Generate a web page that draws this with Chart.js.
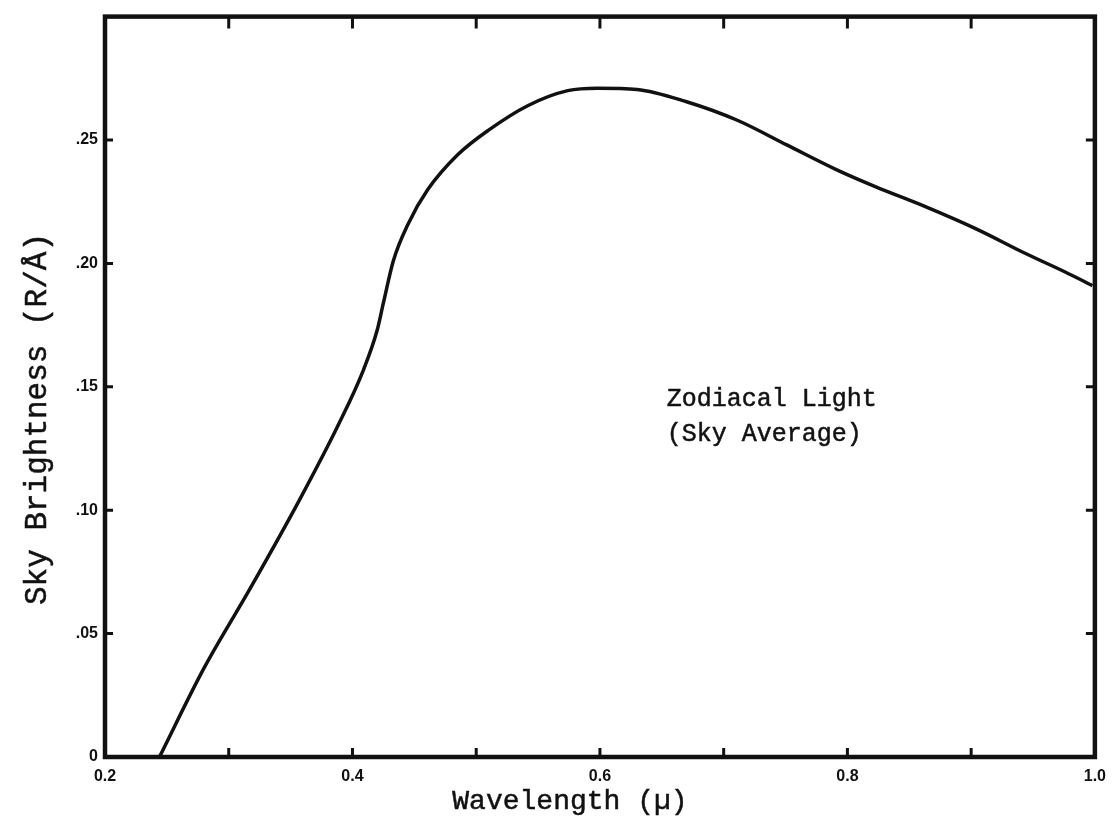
<!DOCTYPE html>
<html>
<head>
<meta charset="utf-8">
<script src="https://cdn.jsdelivr.net/npm/chart.js@4.4.1/dist/chart.umd.min.js"></script>
<style>
  html, body { margin: 0; padding: 0; background: #ffffff; }
  #wrap { width: 1116px; height: 825px; }
</style>
</head>
<body>
<div id="wrap"><canvas id="chart" width="1116" height="825"></canvas></div>
<script>
// Zodiacal light spectrum, sky average: wavelength (micron) vs brightness (R/Å)
const wavelength = [0.244, 0.280, 0.317, 0.357, 0.389, 0.409, 0.420, 0.425, 0.433, 0.445,
                    0.461, 0.485, 0.510, 0.542, 0.574, 0.598, 0.630, 0.670, 0.711, 0.751,
                    0.791, 0.823, 0.863, 0.904, 0.944, 0.976, 0.998];
const brightness = [0.000, 0.036, 0.068, 0.104, 0.135, 0.157, 0.173, 0.184, 0.201, 0.216,
                    0.230, 0.244, 0.254, 0.264, 0.270, 0.271, 0.2705, 0.2655, 0.258, 0.248,
                    0.238, 0.231, 0.223, 0.214, 0.204, 0.1965, 0.191];

// Axis tick labels
const xLabelValues = [0.2, 0.4, 0.6, 0.8, 1.0];
const xLabelTexts  = ['0.2', '0.4', '0.6', '0.8', '1.0'];
const yLabelValues = [0, 0.05, 0.10, 0.15, 0.20, 0.25];
const yLabelTexts  = ['0', '.05', '.10', '.15', '.20', '.25'];

const xTitle = 'Wavelength (\u00b5)';
const yTitle = 'Sky Brightness (R/\u00c5)';
const noteLines = ['Zodiacal Light', '(Sky Average)'];
const notePos = { x: 0.654, y: 0.145 };

function labelFor(values, texts, v) {
  for (let i = 0; i < values.length; i++) {
    if (Math.abs(values[i] - v) < 1e-6) return texts[i];
  }
  return '';
}

const INK = '#111111';
const MONO = '"Liberation Mono", "DejaVu Sans Mono", monospace';
const TICK_FONT = { family: '"Liberation Sans", Arial, sans-serif', size: 16, weight: 'bold' };

// Frame, inward tick marks, axis titles and the curve label
const framePlugin = {
  id: 'frame',
  afterDatasetsDraw(chart) {
    const { ctx, chartArea: a, scales } = chart;
    const xs = scales.x, ys = scales.y;
    ctx.save();
    ctx.strokeStyle = INK;
    ctx.lineCap = 'butt';

    // inward ticks
    ctx.lineWidth = 3;
    xs.ticks.forEach(t => {
      const px = xs.getPixelForValue(t.value);
      if (px <= a.left + 2 || px >= a.right - 2) return;
      ctx.beginPath();
      ctx.moveTo(px, a.bottom); ctx.lineTo(px, a.bottom - 9);
      ctx.moveTo(px, a.top); ctx.lineTo(px, a.top + 12);
      ctx.stroke();
    });
    ys.ticks.forEach(t => {
      const py = ys.getPixelForValue(t.value);
      if (py >= a.bottom - 2 || py <= a.top + 2) return;
      ctx.beginPath();
      ctx.moveTo(a.left, py); ctx.lineTo(a.left + 8, py);
      ctx.moveTo(a.right, py); ctx.lineTo(a.right - 9, py);
      ctx.stroke();
    });

    // frame
    ctx.lineWidth = 4.5;
    ctx.lineJoin = 'miter';
    ctx.strokeRect(a.left, a.top, a.right - a.left, a.bottom - a.top);

    // axis titles
    ctx.fillStyle = INK;
    ctx.lineWidth = 0.5;
    ctx.textAlign = 'center';
    ctx.textBaseline = 'middle';
    ctx.font = '28px ' + MONO;
    const xt = (a.left + a.right) / 2 - 30;
    ctx.fillText(xTitle, xt, 802);
    ctx.strokeText(xTitle, xt, 802);

    ctx.save();
    ctx.translate(38, 419);
    ctx.rotate(-Math.PI / 2);
    ctx.font = '31px ' + MONO;
    ctx.fillText(yTitle, 0, 0);
    ctx.strokeText(yTitle, 0, 0);
    ctx.restore();

    // curve label
    ctx.textAlign = 'left';
    ctx.font = '25px ' + MONO;
    const nx = xs.getPixelForValue(notePos.x);
    const ny = ys.getPixelForValue(notePos.y);
    noteLines.forEach((line, i) => {
      ctx.fillText(line, nx, ny + i * 35);
      ctx.strokeText(line, nx, ny + i * 35);
    });
    ctx.restore();
  }
};

const points = wavelength.map((w, i) => ({ x: w, y: brightness[i] }));

new Chart(document.getElementById('chart'), {
  type: 'line',
  data: {
    datasets: [{
      data: points,
      borderColor: INK,
      borderWidth: 3.5,
      pointRadius: 0,
      fill: false,
      cubicInterpolationMode: 'monotone',
      clip: 3
    }]
  },
  options: {
    responsive: false,
    devicePixelRatio: 1,
    animation: false,
    events: [],
    layout: { padding: { top: 10, right: 16, left: 0, bottom: 0 } },
    plugins: { legend: { display: false }, tooltip: { enabled: false } },
    scales: {
      x: {
        type: 'linear',
        min: 0.2, max: 1.0,
        border: { display: false },
        grid: { display: false, drawTicks: false },
        ticks: {
          stepSize: 0.1,
          autoSkip: false,
          maxRotation: 0,
          padding: 10,
          color: INK,
          font: TICK_FONT,
          callback: v => labelFor(xLabelValues, xLabelTexts, v)
        },
        afterFit: s => { s.height = 68; }
      },
      y: {
        type: 'linear',
        min: 0, max: 0.30,
        border: { display: false },
        grid: { display: false, drawTicks: false },
        ticks: {
          stepSize: 0.05,
          autoSkip: false,
          padding: 7,
          color: INK,
          font: TICK_FONT,
          callback: v => labelFor(yLabelValues, yLabelTexts, v)
        },
        afterFit: s => { s.width = 105; }
      }
    }
  },
  plugins: [framePlugin]
});
</script>
</body>
</html>
